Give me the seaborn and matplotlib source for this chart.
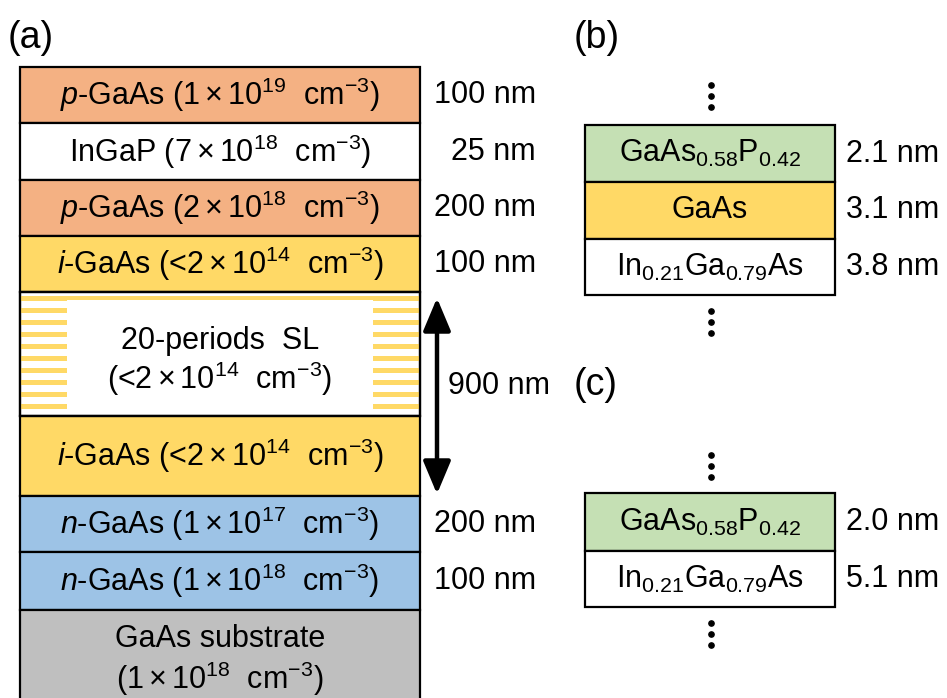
import matplotlib
matplotlib.use("Agg")
import matplotlib.pyplot as plt
import seaborn as sns
import numpy as np

sns.set_theme(style="white")
plt.rcParams['font.family'] = ['Liberation Sans', 'DejaVu Sans']
plt.rcParams['text.color'] = 'black'
plt.rcParams['mathtext.fontset'] = 'custom'
plt.rcParams['mathtext.rm'] = 'Liberation Sans'
plt.rcParams['mathtext.it'] = 'Liberation Sans:italic'
plt.rcParams['mathtext.bf'] = 'Liberation Sans:bold'
plt.rcParams['mathtext.sf'] = 'Liberation Sans'

# ---------------- data ----------------
# panel (a): layer stack (top to bottom)
a_labels = [
    r"$p$-GaAs ($1\times10^{19}$  cm$^{-3}$)",
    r"InGaP ($7\times10^{18}$  cm$^{-3}$)",
    r"$p$-GaAs ($2\times10^{18}$  cm$^{-3}$)",
    r"$i$-GaAs (<$2\times10^{14}$  cm$^{-3}$)",
    "20-periods  SL\n" + r"(<$2\times10^{14}$  cm$^{-3}$)",
    r"$i$-GaAs (<$2\times10^{14}$  cm$^{-3}$)",
    r"$n$-GaAs ($1\times10^{17}$  cm$^{-3}$)",
    r"$n$-GaAs ($1\times10^{18}$  cm$^{-3}$)",
    "GaAs substrate\n" + r"($1\times10^{18}$  cm$^{-3}$)",
]
a_thick = ["100 nm", "25 nm", "200 nm", "100 nm", "", "", "200 nm", "100 nm", ""]
a_colors = ["#F4B183", "#FFFFFF", "#F4B183", "#FFD966", "#FFFFFF",
            "#FFD966", "#9DC3E6", "#9DC3E6", "#BFBFBF"]
a_heights = [56, 57, 56, 56, 124, 80, 56, 58, 92]   # drawn heights (px)
sl_index = 4
sl_periods = 10
sl_total = "900 nm"

# panel (b)
b_labels = [r"GaAs$_{0.58}$P$_{0.42}$", "GaAs", r"In$_{0.21}$Ga$_{0.79}$As"]
b_thick = ["2.1 nm", "3.1 nm", "3.8 nm"]
b_colors = ["#C5E0B4", "#FFD966", "#FFFFFF"]
b_heights = [57, 57, 56]

# panel (c)
c_labels = [r"GaAs$_{0.58}$P$_{0.42}$", r"In$_{0.21}$Ga$_{0.79}$As"]
c_thick = ["2.0 nm", "5.1 nm"]
c_colors = ["#C5E0B4", "#FFFFFF"]
c_heights = [58, 56]

# ---------------- layout ----------------
W, H = 947, 698
fig = plt.figure(figsize=(W / 100, H / 100), dpi=100)
ax = fig.add_axes([0, 0, 1, 1])
ax.set_xlim(0, W)
ax.set_ylim(H, 0)
ax.axis("off")

FS = 22
LW = 1.6


def stack(x0, width, top, heights, colors, labels, thick, tx, tha, fs=FS):
    tops = top + np.concatenate([[0], np.cumsum(heights)[:-1]])
    ax.bar(x=[x0 + width / 2] * len(heights), height=heights, bottom=tops,
           width=width, color=colors, edgecolor="black", linewidth=LW, zorder=2)
    centers = tops + np.array(heights) / 2
    for lab, t, c in zip(labels, thick, centers):
        if lab:
            ax.text(x0 + width / 2, c, lab, ha="center", va="center",
                    fontsize=fs, zorder=5)
        if t:
            ax.text(tx, c, t, ha=tha, va="center", fontsize=fs, zorder=5)
    return tops, centers


# panel (a)
ax_x0, ax_w, ax_top = 20, 400, 67
tops, centers = stack(ax_x0, ax_w, ax_top, a_heights, a_colors,
                      [""] * len(a_labels), a_thick, 536, "right")

# superlattice stripes
sl_top = tops[sl_index]
sl_h = a_heights[sl_index]
period = (sl_h - 4) / sl_periods
stripe_tops = sl_top + 4 + period * np.arange(sl_periods)
ax.bar(x=[ax_x0 + ax_w / 2] * sl_periods, height=[period * 0.42] * sl_periods,
       bottom=stripe_tops, width=ax_w - 2, color="#FFD966", linewidth=0, zorder=3)
ax.bar(x=[(67 + 373) / 2], height=[110], bottom=[300], width=373 - 67,
       color="white", linewidth=0, zorder=3)
ax.bar(x=[ax_x0 + ax_w / 2], height=[sl_h], bottom=[sl_top], width=ax_w,
       color="none", edgecolor="black", linewidth=LW, zorder=4)

# labels in (a)
for i, (lab, c) in enumerate(zip(a_labels, centers)):
    if "\n" in lab:
        l1, l2 = lab.split("\n")
        o1, o2 = (-13, 25) if i == sl_index else (-17, 23)
        ax.text(ax_x0 + ax_w / 2, c + o1, l1, ha="center", va="center", fontsize=FS, zorder=5)
        ax.text(ax_x0 + ax_w / 2, c + o2, l2, ha="center", va="center", fontsize=FS, zorder=5)
    else:
        ax.text(ax_x0 + ax_w / 2, c, lab, ha="center", va="center", fontsize=FS, zorder=5)

# 900 nm arrow spanning SL + i-GaAs
y_a0 = tops[sl_index] + 6
y_a1 = tops[sl_index + 1] + a_heights[sl_index + 1] - 2
ax.annotate("", xy=(437, y_a0), xytext=(437, y_a1),
            arrowprops=dict(arrowstyle="<|-|>,head_length=1.0,head_width=0.42",
                            lw=3.2, color="black", shrinkA=0, shrinkB=0,
                            mutation_scale=20), zorder=6)
ax.text(448, (y_a0 + y_a1) / 2 - 10, sl_total, ha="left", va="center", fontsize=FS)

# panel (b)
btops, _ = stack(585, 250, 125, b_heights, b_colors, b_labels, b_thick, 846, "left")
# panel (c)
ctops, _ = stack(585, 250, 493, c_heights, c_colors, c_labels, c_thick, 846, "left")


def vdots(x, ytop):
    ax.plot([x, x, x], [ytop, ytop + 11, ytop + 22], "o", color="black",
            ms=3.8, linestyle="none", zorder=5)


vdots(711, 85)
vdots(711, 311)
vdots(711, 455)
vdots(711, 623)

LFS = 27
ax.text(8, 38, "(a)", ha="left", va="center", fontsize=LFS)
ax.text(574, 38, "(b)", ha="left", va="center", fontsize=LFS)
ax.text(574, 385, "(c)", ha="left", va="center", fontsize=LFS)

fig.savefig("out.png", dpi=100, facecolor="white")
